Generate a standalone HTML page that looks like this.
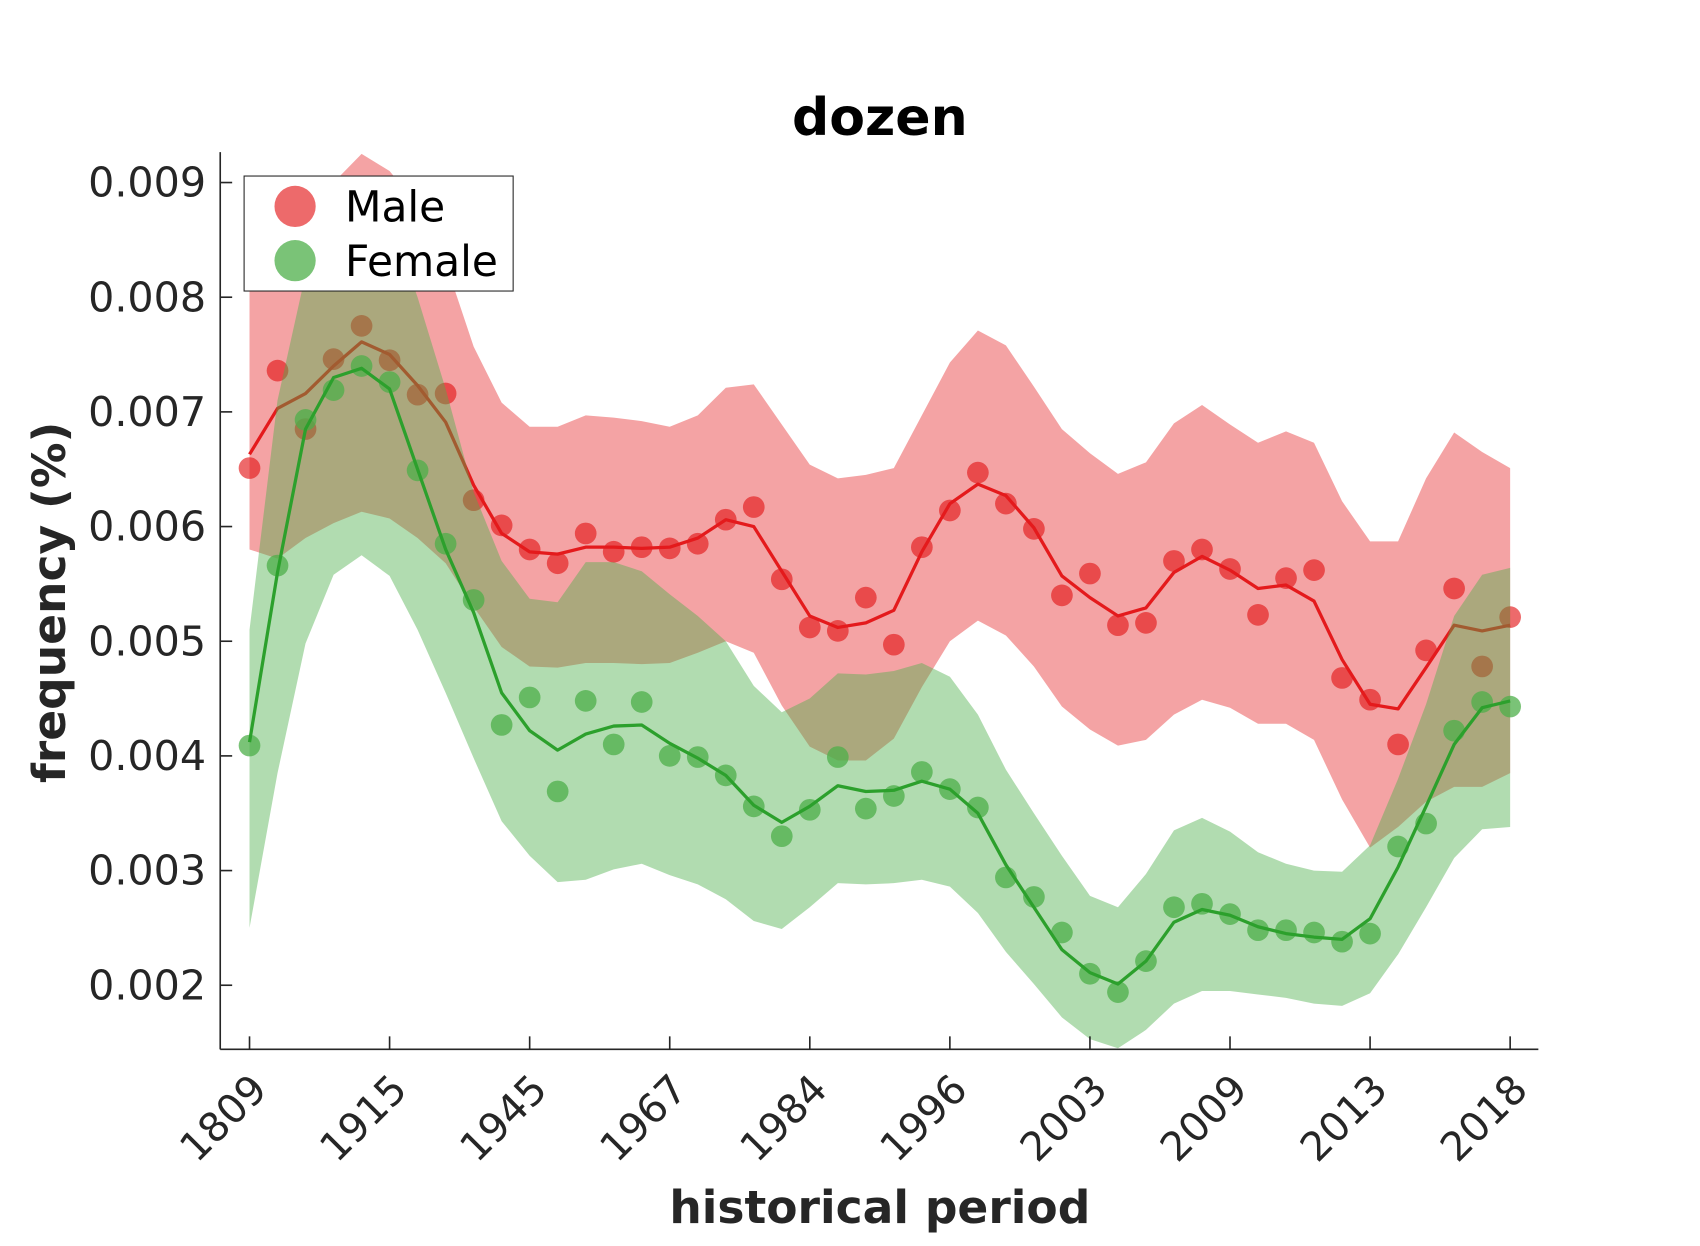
<!DOCTYPE html>
<html><head><meta charset="utf-8"><style>
html,body{margin:0;padding:0;background:#fff}
svg{display:block}
text{font-family:"DejaVu Sans","Liberation Sans",sans-serif}
</style></head><body>
<svg id="chart" width="1700" height="1246" viewBox="0 0 1567 1148" xmlns="http://www.w3.org/2000/svg">
<text x="811" y="124" font-size="48" font-weight="bold" text-anchor="middle" fill="#000">dozen</text>
<g id="plot"></g>
<line x1="203" y1="140" x2="203" y2="967" stroke="#262626" stroke-width="1.5"/>
<line x1="203" y1="967" x2="1418" y2="967" stroke="#262626" stroke-width="1.5"/>
<g id="yticks"></g>
<g id="xticks"></g>
<text transform="translate(60,555) rotate(-90)" font-size="42" font-weight="bold" text-anchor="middle" fill="#262626">frequency (%)</text>
<text x="811" y="1127" font-size="42" font-weight="bold" text-anchor="middle" fill="#262626">historical period</text>
<g>
<rect x="225" y="162" width="248" height="106" fill="#fff" stroke="#262626" stroke-width="1"/>
<circle cx="272" cy="190" r="19" fill="#e41a1c" fill-opacity="0.65"/>
<text x="318" y="204" font-size="39" fill="#000">Male</text>
<circle cx="272" cy="240" r="19" fill="#4daf4a" fill-opacity="0.75"/>
<text x="318" y="254" font-size="39" fill="#000">Female</text>
</g>
</svg>
<script>
const categories=["1809","","","","","1915","","","","","1945","","","","","1967","","","","","1984","","","","","1996","","","","","2003","","","","","2009","","","","","2013","","","","","2018"];
const tickValues=[0.002,0.003,0.004,0.005,0.006,0.007,0.008,0.009];
const tickLabels=["0.002","0.003","0.004","0.005","0.006","0.007","0.008","0.009"];
const maleDots=[0.00651,0.00736,0.00685,0.00746,0.00775,0.00745,0.00715,0.00716,0.00623,0.00601,0.00580,0.00568,0.00594,0.00578,0.00582,0.00581,0.00585,0.00606,0.00617,0.00554,0.00512,0.00509,0.00538,0.00497,0.00582,0.00614,0.00647,0.00620,0.00598,0.00540,0.00559,0.00514,0.00516,0.00570,0.00580,0.00563,0.00523,0.00555,0.00562,0.00468,0.00449,0.00410,0.00492,0.00546,0.00478,0.00521];
const maleLine=[0.00663,0.00703,0.00716,0.00740,0.00761,0.00750,0.00723,0.00691,0.00636,0.00594,0.00578,0.00576,0.00582,0.00582,0.00581,0.00582,0.00590,0.00606,0.00600,0.00561,0.00522,0.00512,0.00516,0.00527,0.00578,0.00620,0.00637,0.00627,0.00599,0.00557,0.00538,0.00522,0.00529,0.00560,0.00574,0.00562,0.00546,0.00549,0.00535,0.00484,0.00445,0.00441,0.00477,0.00514,0.00509,0.00514];
const maleUpper=[0.0084,0.0085,0.0088,0.0090,0.00925,0.0091,0.0088,0.0083,0.00757,0.00708,0.00687,0.00687,0.00697,0.00695,0.00692,0.00687,0.00697,0.00721,0.00724,0.00689,0.00654,0.00642,0.00645,0.00651,0.00697,0.00743,0.00771,0.00758,0.00722,0.00685,0.00664,0.00646,0.00656,0.00690,0.00706,0.00689,0.00673,0.00683,0.00673,0.00622,0.00587,0.00587,0.00642,0.00682,0.00665,0.00651];
const maleLower=[0.0058,0.00572,0.00590,0.00603,0.00613,0.00607,0.00590,0.00568,0.00530,0.00495,0.00478,0.00477,0.00481,0.00481,0.00480,0.00481,0.00490,0.00500,0.00490,0.00444,0.00408,0.00396,0.00396,0.00415,0.00460,0.00500,0.00518,0.00505,0.00478,0.00443,0.00423,0.00409,0.00414,0.00436,0.00449,0.00442,0.00428,0.00428,0.00414,0.00362,0.00320,0.00338,0.00360,0.00373,0.00373,0.00385];
const femaleDots=[0.00409,0.00566,0.00693,0.00719,0.00740,0.00726,0.00649,0.00585,0.00536,0.00427,0.00451,0.00369,0.00448,0.00410,0.00447,0.00400,0.00399,0.00383,0.00356,0.00330,0.00353,0.00399,0.00354,0.00365,0.00386,0.00371,0.00355,0.00294,0.00277,0.00246,0.00210,0.00194,0.00221,0.00268,0.00271,0.00262,0.00248,0.00248,0.00246,0.00238,0.00245,0.00321,0.00341,0.00422,0.00447,0.00443];
const femaleLine=[0.00412,0.00560,0.00685,0.00730,0.00738,0.00720,0.00650,0.00580,0.00525,0.00455,0.00422,0.00405,0.00419,0.00426,0.00427,0.00411,0.00398,0.00383,0.00357,0.00342,0.00356,0.00374,0.00369,0.00370,0.00378,0.00371,0.00350,0.00305,0.00268,0.00231,0.00211,0.00201,0.00221,0.00255,0.00266,0.00261,0.00251,0.00245,0.00242,0.00240,0.00258,0.00303,0.00356,0.00410,0.00442,0.00448];
const femaleUpper=[0.0051,0.0071,0.0082,0.0088,0.0089,0.0087,0.0080,0.0072,0.0063,0.0057,0.00537,0.00534,0.00569,0.00569,0.00561,0.00541,0.00522,0.00500,0.00461,0.00438,0.00450,0.00472,0.00471,0.00474,0.00481,0.00469,0.00436,0.00388,0.00350,0.00313,0.00278,0.00268,0.00297,0.00335,0.00346,0.00334,0.00316,0.00306,0.00300,0.00299,0.00322,0.00380,0.00445,0.00522,0.00558,0.00564];
const femaleLower=[0.00250,0.00385,0.00498,0.00558,0.00575,0.00557,0.00510,0.00455,0.00398,0.00343,0.00313,0.00290,0.00292,0.00301,0.00306,0.00296,0.00288,0.00275,0.00256,0.00249,0.00268,0.00289,0.00288,0.00289,0.00292,0.00286,0.00263,0.00229,0.00201,0.00172,0.00153,0.00145,0.00161,0.00184,0.00195,0.00195,0.00192,0.00189,0.00184,0.00182,0.00193,0.00227,0.00268,0.00311,0.00336,0.00338];

const NS="http://www.w3.org/2000/svg";
const X0=230,X1=1392,YTOP=140,YBOT=967;
function xs(i){return X0+(X1-X0)*i/(categories.length-1);}
function ys(v){return 168+(0.009-v)*105700;}
function mk(tag,attrs,parent){const e=document.createElementNS(NS,tag);for(const k in attrs)e.setAttribute(k,attrs[k]);parent.appendChild(e);return e;}
const plot=document.getElementById('plot');
const clip=mk('clipPath',{id:'clip'},plot);
mk('rect',{x:203,y:YTOP,width:1215,height:YBOT-YTOP},clip);
const g=mk('g',{'clip-path':'url(#clip)'},plot);


function band(up,lo,color,op,name){
  let d='M'+up.map((v,i)=>xs(i).toFixed(1)+','+ys(v).toFixed(1)).join('L');
  for(let i=lo.length-1;i>=0;i--)d+='L'+xs(i).toFixed(1)+','+ys(lo[i]).toFixed(1);
  const p=mk('path',{d:d+'Z',fill:color,'fill-opacity':op},g);
  
  
}
function dots(arr,color,op,name){
  arr.forEach((v,i)=>{const c=mk('circle',{cx:xs(i),cy:ys(v),r:10,fill:color,'fill-opacity':op},g);
  
  });
}
function line(arr,color,name){
  const p=mk('polyline',{points:arr.map((v,i)=>xs(i).toFixed(1)+','+ys(v).toFixed(1)).join(' '),fill:'none',stroke:color,'stroke-width':3,'stroke-linejoin':'round'},g);
  
  
}
band(maleUpper,maleLower,'#e41a1c',0.4,'male-band');
dots(maleDots,'#e41a1c',0.65,'male-point');
line(maleLine,'#e41a1c','male-line');
band(femaleUpper,femaleLower,'#4daf4a',0.44,'female-band');
dots(femaleDots,'#4daf4a',0.75,'female-point');
line(femaleLine,'#2ca02c','female-line');

const yt=document.getElementById('yticks');
tickValues.forEach((v,i)=>{
  const y=ys(v);
  const l=mk('line',{x1:203,x2:214,y1:y,y2:y,stroke:'#262626','stroke-width':1.5},yt);
  
  
  const t=mk('text',{x:190,y:y+13,'font-size':38,'text-anchor':'end',fill:'#262626'},yt);
  
  
  t.textContent=tickLabels[i];
});
const xt=document.getElementById('xticks');
categories.forEach((c,i)=>{
  if(!c)return;
  const x=xs(i);
  const l=mk('line',{x1:x,x2:x,y1:967,y2:955,stroke:'#262626','stroke-width':1.5},xt);
  
  
  const t=mk('text',{transform:'translate('+(x+18)+',1006) rotate(-45)','font-size':37,'text-anchor':'end',fill:'#262626'},xt);
  
  
  t.textContent=c;
});
</script>
</body></html>
